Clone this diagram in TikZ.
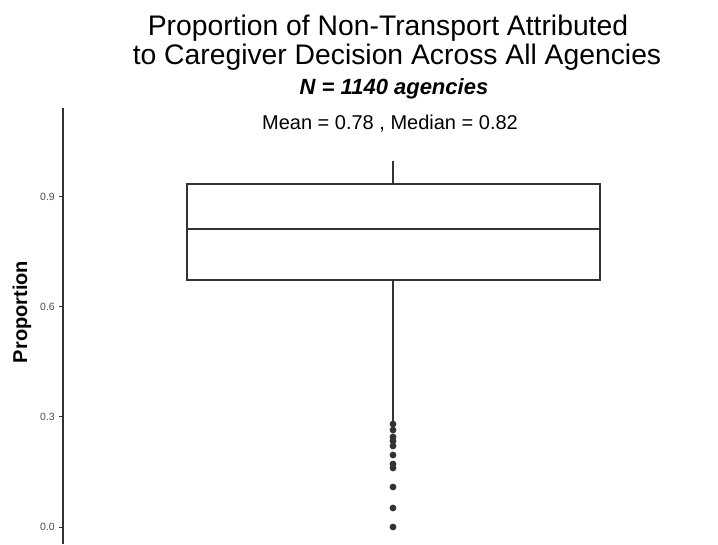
\documentclass[tikz,border=0pt]{standalone}
\usepackage{fontspec}
\setmainfont{Liberation Sans}
\usepackage{tikz}

\definecolor{axisgray}{HTML}{333333}
\definecolor{ticklabel}{HTML}{4D4D4D}

\begin{document}
\begin{tikzpicture}[x=1pt,y=1pt]
\tikzstyle{every node}+=[inner sep=0pt]
\tikzstyle{boxline}=[draw=axisgray, line width=1.1pt]
\tikzstyle{outlier}=[fill=axisgray]
\tikzstyle{ticktext}=[text=ticklabel, font=\fontsize{10.5}{12}\selectfont, anchor=east]
\useasboundingbox (0,0) rectangle (718,544);
% titles
\node (title1) at (388,508) [anchor=base, font=\fontsize{28.3}{32}\selectfont] {Proportion of Non-Transport Attributed};
\node (title2) at (397,479) [anchor=base, font=\fontsize{28.3}{32}\selectfont] {to Caregiver Decision Across All Agencies};
\node (subtitle) at (394,449) [anchor=base, font=\fontsize{22}{26}\selectfont\bfseries\itshape] {N = 1140 agencies};
\node (stats) at (390,414) [anchor=base, font=\fontsize{20}{24}\selectfont] {Mean = 0.78 , Median = 0.82};
% y axis
\draw [axisgray, line width=1.5pt] (63,436) -- (63,0);
\foreach \v/\y in {0.0/17, 0.3/127, 0.6/237, 0.9/347} {
  \draw [axisgray, line width=1pt] (59,\y) -- (63,\y);
  \node [ticktext] at (55,\y) {\v};
}
\node (ylabel) at (22,232) [rotate=90, font=\fontsize{20}{24}\selectfont\bfseries] {Proportion};
% whiskers
\draw [boxline] (393,383) -- (393,360);
\draw [boxline] (393,264) -- (393,122);
% box
\draw [boxline] (187,264) rectangle (600,360);
\draw [axisgray, line width=2.6pt] (187,315) -- (600,315);
% outliers
\foreach \y in {120,114,107,103,98,89,80,76,57,36,17}
  \fill [outlier] (393,\y) circle (3.4);
\end{tikzpicture}
\end{document}
